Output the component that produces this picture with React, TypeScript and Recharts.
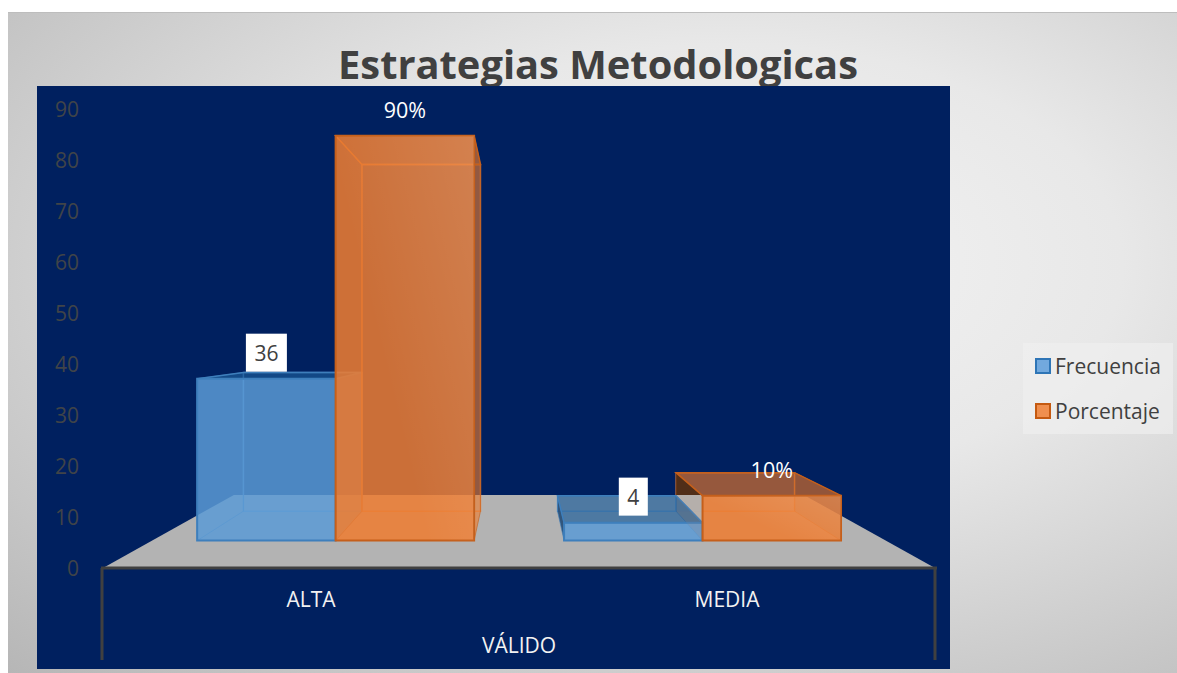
import React from 'react';
import { BarChart, Bar, XAxis, YAxis, Legend, LabelList, ReferenceArea } from 'recharts';

const categories = ['ALTA', 'MEDIA'];
const groups = ['VÁLIDO', 'VÁLIDO'];
const frecuencia = [36, 4];
const porcentaje = [90, 10];
const yTicks = [0, 10, 20, 30, 40, 50, 60, 70, 80, 90];

const chartData = categories.map((c, i) => ({
  category: c,
  group: groups[i],
  Frecuencia: frecuencia[i],
  Porcentaje: porcentaje[i],
}));

const FONT = '"Open Sans", sans-serif';
const VPX = 510.5;
const VPY = 324;
const FRONT = 0.882;
const BACK = 0.755;
const FLOOR_BACK = 0.685;

const px = (x: number, s: number) => VPX + (x - VPX) * s;
const py = (y: number, s: number) => VPY + (y - VPY) * s;
const poly = (pts: number[][]) => pts.map((p) => p.join(',')).join(' ');

const BLUE = {
  id: 'blue', front: '#5B9BD5', alpha: 0.835, edge: '#3E7FBC', inner: '#5C9CD8', top: '#1A5A98', outer: '#14406E', sheen: 0, cutLeft: false,
};
const ORANGE = {
  id: 'orange', front: '#ED7D31', alpha: 0.85, edge: '#C55F1B', inner: '#F07F33', top: '#E0752C', outer: '#633108', sheen: 0.12, cutLeft: true,
};

const makeBox = (c: typeof BLUE) => (props: any) => {
  const { x, y, width, height } = props;
  const l = x, r = x + width, t = y, b = y + height;
  const f = (xx: number, yy: number) => [px(xx, FRONT), py(yy, FRONT)];
  const k = (xx: number, yy: number) => [px(xx, BACK), py(yy, BACK)];
  const leftOut = k(l, t)[0] < f(l, t)[0];
  const rightOut = k(r, t)[0] > f(r, t)[0];
  const topOut = k(l, t)[1] < f(l, t)[1];
  const floorBackY = py(b, FLOOR_BACK);
  const gid = `sheen-${c.id}-${Math.round(x)}`;
  const cut = leftOut && c.cutLeft && k(l, b)[1] > floorBackY;
  const leftPts = cut
    ? [f(l, t), k(l, t), [k(l, t)[0], floorBackY], [f(l, t)[0], floorBackY]]
    : [f(l, t), k(l, t), k(l, b), f(l, b)];
  const backOutline = cut
    ? [[f(l, t)[0], k(l, b)[1]], k(r, b), k(r, t), k(l, t), [k(l, t)[0], floorBackY]]
    : [k(l, t), k(r, t), k(r, b), k(l, b), k(l, t)];
  return (
    <g>
      <defs>
        <linearGradient id={gid} x1="1" y1="0" x2="0.3" y2="0.5">
          <stop offset="0" stopColor="#FFFFFF" stopOpacity={c.sheen} />
          <stop offset="1" stopColor="#FFFFFF" stopOpacity={0} />
        </linearGradient>
      </defs>
      <polygon points={poly([k(l, t), k(r, t), k(r, b), k(l, b)])} fill={c.front} fillOpacity={0.05} stroke="none" />
      <polyline points={poly(backOutline)} fill="none" stroke={c.inner} strokeOpacity={0.7} strokeWidth={1.5} />
      <polygon points={poly([f(l, b), f(r, b), k(r, b), k(l, b)])} fill={c.front} fillOpacity={0.08} stroke="none" />
      <polygon
        points={poly(leftPts)}
        fill={leftOut ? c.outer : c.inner}
        fillOpacity={leftOut ? 0.8 : 0.12}
        stroke={cut ? 'none' : c.edge}
        strokeOpacity={0.6}
      />
      <polygon
        points={poly([f(r, t), k(r, t), k(r, b), f(r, b)])}
        fill={rightOut ? c.front : '#000000'}
        fillOpacity={rightOut ? 0.6 : 0.12}
        stroke={c.edge}
        strokeOpacity={0.6}
      />
      <polygon
        points={poly([f(l, t), f(r, t), k(r, t), k(l, t)])}
        fill={c.top}
        fillOpacity={topOut ? 0.65 : 0.12}
        stroke={c.edge}
        strokeWidth={1.5}
      />
      <polygon points={poly([f(l, t), f(r, t), f(r, b), f(l, b)])} fill={c.front} fillOpacity={c.alpha} stroke={c.edge} strokeWidth={2} />
      <polygon points={poly([f(l, t), f(r, t), f(r, b), f(l, b)])} fill={`url(#${gid})`} />
    </g>
  );
};

const Floor = (props: any) => {
  const { x, y, width, height } = props;
  const l = x, r = x + width, b = y + height;
  return (
    <g>
      <polygon
        points={poly([[l, b], [r, b], [px(r, FLOOR_BACK), py(b, FLOOR_BACK)], [px(l, FLOOR_BACK), py(b, FLOOR_BACK)]])}
        fill="#B3B3B3"
      />
      <path d={`M${l - 2} ${b}H${r + 2}M${l - 1} ${b}V${b + 92}M${r} ${b}V${b + 92}`} stroke="#404040" strokeWidth={3} fill="none" />
    </g>
  );
};

const boxedLabel = (props: any) => {
  const { x, y, width, value } = props;
  const cx = px(x + width / 2, FRONT);
  const cy = py(y, FRONT) - 26;
  const txt = String(value);
  const w = txt.length * 12 + 17;
  return (
    <g>
      <rect x={cx - w / 2} y={cy - 19} width={w} height={38} fill="#FFFFFF" />
      <text x={cx} y={cy} textAnchor="middle" dominantBaseline="central" fontFamily={FONT} fontSize={21} fill="#404040">{txt}</text>
    </g>
  );
};

const percentLabel = (props: any) => {
  const { x, y, width, value } = props;
  const cx = px(x + width / 2, FRONT);
  const cy = py(y, FRONT) - 26;
  return (
    <text x={cx} y={cy} textAnchor="middle" dominantBaseline="central" fontFamily={FONT} fontSize={21.5} fill="#FFFFFF">{`${value}%`}</text>
  );
};

const legendContent = (props: any) => {
  const { payload } = props;
  const edges: Record<string, string> = { Frecuencia: '#2E75B6', Porcentaje: '#C55A11' };
  const fills: Record<string, string> = { Frecuencia: '#72A9DE', Porcentaje: '#F08F4E' };
  return (
    <div style={{ width: 150, height: 91, background: 'rgba(240,240,240,0.65)', fontFamily: FONT, fontSize: 21, color: '#404040', position: 'relative' }}>
      {(payload || []).map((p: any, i: number) => (
        <div key={p.value} style={{ position: 'absolute', left: 12, top: 15 + i * 45, height: 15, display: 'flex', alignItems: 'center' }}>
          <span style={{ display: 'inline-block', width: 12, height: 12, background: fills[p.value], border: `2px solid ${edges[p.value]}`, marginRight: 4 }} />
          <span style={{ whiteSpace: 'nowrap' }}>{p.value}</span>
        </div>
      ))}
    </div>
  );
};

export default function App() {
  return (
    <div
      style={{
        position: 'absolute', left: 8, top: 12, width: 1169, height: 661, overflow: 'hidden',
        background: 'radial-gradient(ellipse at 62% 38%, #F4F4F4 0%, #E8E8E8 38%, #B6B6B6 100%)',
        borderTop: '1px solid #BDBDBD', boxSizing: 'border-box',
      }}
    >
      <div
        style={{
          position: 'absolute', left: 0, width: 1180, top: 23, textAlign: 'center',
          fontFamily: FONT, fontWeight: 700, fontSize: 39.85, lineHeight: '56px', color: '#404040',
        }}
      >
        Estrategias Metodologicas
      </div>
      <div style={{ position: 'absolute', left: 29, top: 73, width: 913, height: 583, background: '#00205F' }} />
      <div style={{ position: 'absolute', left: 0, top: -1 }}>
        <BarChart
          width={1169}
          height={661}
          data={chartData}
          margin={{ top: 97, right: 242, bottom: 0, left: 35 }}
          barCategoryGap="12.3%"
          barGap={0}
          style={{ background: 'transparent' }}
        >
          <YAxis
            width={60}
            domain={[0, 90]}
            ticks={yTicks}
            interval={0}
            axisLine={false}
            tickLine={false}
            tickSize={0}
            tickMargin={24}
            tick={{ fill: '#404448', fontSize: 21, fontFamily: FONT, dy: 0.5 }}
          />
          <XAxis
            xAxisId="cat"
            dataKey="category"
            height={46}
            axisLine={false}
            tickLine={false}
            tickSize={0}
            tickMargin={24}
            tick={{ fill: '#F2F2F2', fontSize: 21, fontFamily: FONT }}
          />
          <XAxis
            xAxisId="group"
            dataKey="group"
            allowDuplicatedCategory={false}
            height={59}
            axisLine={false}
            tickLine={false}
            tickSize={0}
            tickMargin={24}
            tick={{ fill: '#F2F2F2', fontSize: 21, fontFamily: FONT }}
          />
          <ReferenceArea xAxisId="cat" y1={0} y2={90} ifOverflow="visible" shape={Floor} />
          <Legend
            layout="vertical"
            align="center"
            verticalAlign="middle"
            content={legendContent}
            wrapperStyle={{ left: 1015, top: 331, width: 150, height: 91 }}
          />
          <Bar xAxisId="cat" dataKey="Frecuencia" isAnimationActive={false} shape={makeBox(BLUE)}>
            <LabelList dataKey="Frecuencia" content={boxedLabel} />
          </Bar>
          <Bar xAxisId="cat" dataKey="Porcentaje" isAnimationActive={false} shape={makeBox(ORANGE)}>
            <LabelList dataKey="Porcentaje" content={percentLabel} />
          </Bar>
        </BarChart>
      </div>
    </div>
  );
}
